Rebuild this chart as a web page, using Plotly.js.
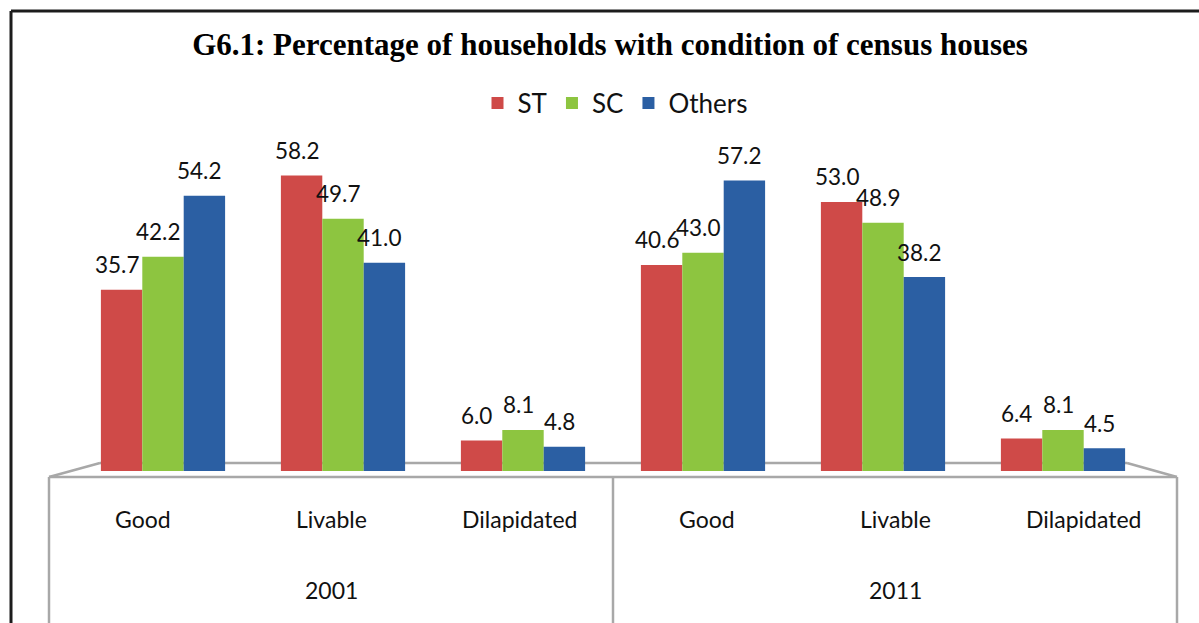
<!DOCTYPE html>
<html>
<head>
<meta charset="utf-8">
<script src="https://cdn.plot.ly/plotly-3.0.1.min.js"></script>
<style>
  html, body { margin: 0; padding: 0; background: #ffffff; }
  #chart { width: 1199px; height: 623px; }
</style>
</head>
<body>
<div id="chart"></div>
<script>
// ---- data ----
const categories = ['Good', 'Livable', 'Dilapidated', 'Good', 'Livable', 'Dilapidated'];
const years = ['2001', '2011'];
const seriesNames = ['ST', 'SC', 'Others'];
const stValues = [35.7, 58.2, 6.0, 40.6, 53.0, 6.4];
const scValues = [42.2, 49.7, 8.1, 43.0, 48.9, 8.1];
const othersValues = [54.2, 41.0, 4.8, 57.2, 38.2, 4.5];
const seriesColors = ['#CF4A48', '#8DC540', '#2B5FA3'];

// ---- layout geometry ----
const W = 1199, H = 623;
const M = { l: 73, r: 46, t: 141, b: 152 };
const plotW = W - M.l - M.r, plotH = H - M.t - M.b;
const px2x = p => (p - M.l) / plotW;
const px2y = p => (H - M.b - p) / plotH;

const sansFont = 'Lato, "Open Sans", sans-serif';
const bargap = 0.31;
const xs = categories.map((c, i) => i);
const allValues = [stValues, scValues, othersValues];

const traces = allValues.map((vals, t) => ({
  type: 'bar',
  name: seriesNames[t],
  x: xs,
  y: vals,
  marker: { color: seriesColors[t], line: { width: 0 } },
  hoverinfo: 'y+name'
}));

// value labels above bars (positions follow the group layout)
const barW = (1 - bargap) / seriesNames.length;
const annotations = [];
allValues.forEach((vals, t) => {
  vals.forEach((v, i) => {
    annotations.push({
      x: i + (t - (seriesNames.length - 1) / 2) * barW,
      y: v, xref: 'x', yref: 'y',
      text: v.toFixed(1), showarrow: false,
      xanchor: 'center', yanchor: 'middle',
      xshift: -5, yshift: 25,
      font: { family: sansFont, size: 22.5, color: '#111' }
    });
  });
});

// category labels on the front box of the 3D floor
const frontLeft = 49, frontRight = 1177, frontY = 477;
const slot = (frontRight - frontLeft) / categories.length;
categories.forEach((c, i) => {
  annotations.push({
    x: px2x(frontLeft + slot * (i + 0.5)), y: px2y(519),
    xref: 'paper', yref: 'paper', text: c, showarrow: false,
    xanchor: 'center', yanchor: 'middle',
    font: { family: sansFont, size: 23, color: '#111' }
  });
});
const perYear = categories.length / years.length;
years.forEach((yr, k) => {
  annotations.push({
    x: px2x(frontLeft + slot * perYear * (k + 0.5)), y: px2y(590),
    xref: 'paper', yref: 'paper', text: yr, showarrow: false,
    xanchor: 'center', yanchor: 'middle',
    font: { family: sansFont, size: 23, color: '#111' }
  });
});

// floor / axis box and outer frame
const grey = '#A8A8A8';
function seg(x0, y0, x1, y1, color, width, layer) {
  return { type: 'line', xref: 'paper', yref: 'paper',
    x0: px2x(x0), y0: px2y(y0), x1: px2x(x1), y1: px2y(y1),
    line: { color: color, width: width }, layer: layer || 'below' };
}
const backL = 100, backR = 1127, backY = 463;
const midX = frontLeft + slot * perYear;
const shapes = [
  seg(backL, backY, backR, backY, grey, 2.5),
  seg(frontLeft, frontY, backL, backY, grey, 2.5),
  seg(backR, backY, frontRight, frontY, grey, 2.5),
  seg(frontLeft, frontY, frontRight, frontY, grey, 2.5),
  seg(frontLeft, frontY, frontLeft, H + 5, grey, 2.5),
  seg(midX, frontY, midX, H + 5, grey, 2.5),
  seg(frontRight, frontY, frontRight, H + 5, grey, 2.5),
  seg(11, 11, W + 5, 11, '#1c1c1c', 3, 'above'),
  seg(11, 11, 11, H + 5, '#1c1c1c', 3, 'above')
];

const layout = {
  width: W, height: H,
  margin: M,
  paper_bgcolor: '#ffffff',
  plot_bgcolor: 'rgba(0,0,0,0)',
  barmode: 'group',
  bargap: bargap,
  bargroupgap: 0,
  title: {
    text: '<b>G6.1: Percentage of households with condition of census houses</b>',
    font: { family: '"Liberation Serif", "DejaVu Serif", serif', size: 31, color: '#000' },
    xref: 'paper', x: px2x(610), xanchor: 'center',
    yref: 'container', y: 1 - 44 / H, yanchor: 'middle'
  },
  showlegend: true,
  legend: {
    orientation: 'h', x: px2x(615), xanchor: 'center',
    y: px2y(103), yanchor: 'middle',
    font: { family: sansFont, size: 26, color: '#111' },
    bgcolor: 'rgba(0,0,0,0)'
  },
  xaxis: { range: [-0.5, categories.length - 0.5], visible: false, fixedrange: true },
  yaxis: { range: [0, 65], visible: false, fixedrange: true },
  annotations: annotations,
  shapes: shapes
};

Plotly.newPlot('chart', traces, layout, { displayModeBar: false, staticPlot: true });
</script>
</body>
</html>
